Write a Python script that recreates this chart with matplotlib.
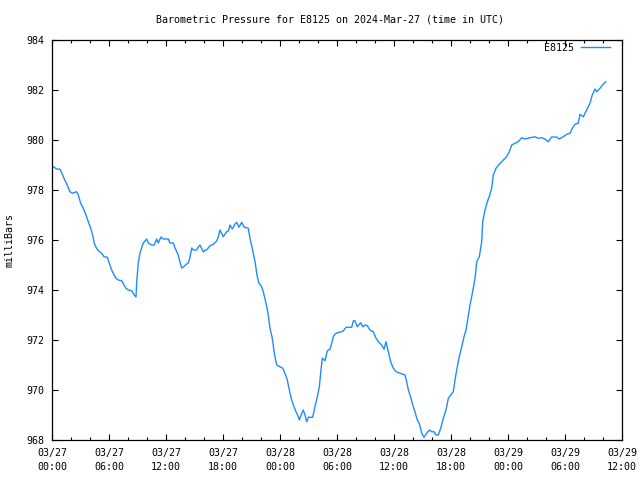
import matplotlib
matplotlib.use("Agg")
import matplotlib.pyplot as plt
from matplotlib.ticker import MultipleLocator

# hours since 2024-03-27 00:00 UTC
hours = [0.14, 0.49, 0.84, 1.02, 1.26, 1.55, 1.89, 2.18, 2.42, 2.60, 2.77, 3.02, 3.29, 3.58, 3.82,
         4.07, 4.28, 4.45, 4.63, 4.87, 5.23, 5.47, 5.82, 6.03, 6.28, 6.53, 6.74, 6.98, 7.34, 7.58,
         7.79, 8.03, 8.39, 8.66, 8.84, 8.92, 9.08, 9.26, 9.44, 9.61, 9.97, 10.14, 10.49, 10.77,
         11.02, 11.19, 11.47, 11.72, 12.24, 12.42, 12.77, 12.95, 13.29, 13.47, 13.65, 13.82, 14.18,
         14.35, 14.53, 14.71, 14.87, 15.23, 15.40, 15.58, 15.93, 16.11, 16.28, 16.63, 16.98, 17.34,
         17.51, 17.68, 18.03, 18.39, 18.56, 18.74, 18.98, 19.26, 19.44, 19.68, 19.97, 20.24, 20.66,
         20.84, 21.08, 21.37, 21.61, 21.79, 22.07, 22.24, 22.49, 22.71, 22.95, 23.19, 23.40, 23.65,
         24.00, 24.28, 24.53, 24.77, 24.98, 25.23, 25.47, 25.68, 25.93, 26.03, 26.18, 26.45, 26.63,
         26.81, 26.98, 27.44, 27.68, 27.93, 28.14, 28.28, 28.45, 28.74, 28.98, 29.26, 29.44, 29.61,
         29.79, 30.03, 30.49, 30.66, 30.95, 31.55, 31.72, 31.89, 32.14, 32.49, 32.71, 32.95, 33.19,
         33.47, 33.82, 34.11, 34.35, 34.71, 34.95, 35.16, 35.40, 35.65, 35.93, 36.21, 36.63, 37.16,
         37.34, 37.51, 37.76, 37.97, 38.21, 38.45, 38.66, 38.92, 39.16, 39.44, 39.72, 39.97, 40.21,
         40.42, 40.66, 40.92, 41.19, 41.47, 41.72, 41.97, 42.24, 42.42, 42.60, 42.87, 43.13, 43.37,
         43.58, 44.00, 44.28, 44.53, 44.71, 44.98, 45.23, 45.34, 45.58, 45.82, 46.03, 46.28, 46.45,
         46.74, 47.08, 47.51, 47.86, 48.14, 48.39, 48.74, 49.08, 49.44, 49.79, 50.32, 50.84, 51.19,
         51.55, 51.89, 52.24, 52.60, 53.13, 53.37, 53.82, 54.18, 54.53, 54.77, 55.05, 55.40, 55.58,
         55.93, 56.28, 56.63, 56.87, 57.16, 57.34, 57.68, 58.03, 58.28]

pressure = [978.93, 978.84, 978.83, 978.69, 978.47, 978.24, 977.93, 977.87, 977.91, 977.93, 977.80,
            977.47, 977.27, 977.00, 976.73, 976.47, 976.20, 975.87, 975.71, 975.57, 975.47, 975.33,
            975.31, 975.07, 974.80, 974.60, 974.47, 974.40, 974.37, 974.20, 974.07, 974.00, 973.97,
            973.80, 973.72, 974.32, 975.08, 975.48, 975.68, 975.88, 976.04, 975.88, 975.80, 975.80,
            976.04, 975.88, 976.12, 976.04, 976.04, 975.88, 975.88, 975.68, 975.40, 975.12, 974.88,
            974.92, 975.04, 975.08, 975.32, 975.68, 975.60, 975.60, 975.72, 975.80, 975.52, 975.60,
            975.60, 975.77, 975.83, 975.96, 976.13, 976.40, 976.13, 976.33, 976.36, 976.60, 976.44,
            976.63, 976.71, 976.51, 976.71, 976.51, 976.47, 976.07, 975.67, 975.13, 974.53, 974.27,
            974.13, 973.93, 973.53, 973.13, 972.47, 972.07, 971.47, 971.00, 970.93, 970.87, 970.67,
            970.40, 970.00, 969.60, 969.33, 969.13, 968.93, 968.80, 968.96, 969.20, 969.00, 968.73,
            968.91, 968.91, 969.33, 969.73, 970.13, 970.67, 971.27, 971.17, 971.57, 971.63, 971.87,
            972.13, 972.24, 972.29, 972.33, 972.36, 972.51, 972.51, 972.77, 972.77, 972.53, 972.69,
            972.53, 972.60, 972.57, 972.40, 972.33, 972.07, 971.93, 971.80, 971.63, 971.93, 971.53,
            971.13, 970.87, 970.73, 970.67, 970.60, 970.33, 970.00, 969.71, 969.40, 969.13, 968.80,
            968.67, 968.27, 968.11, 968.27, 968.40, 968.33, 968.33, 968.20, 968.20, 968.47, 968.87,
            969.20, 969.67, 969.80, 969.93, 970.40, 970.80, 971.33, 971.73, 972.13, 972.40, 973.40,
            973.93, 974.47, 975.13, 975.33, 975.93, 976.73, 977.20, 977.53, 977.73, 978.07, 978.60,
            978.87, 979.03, 979.20, 979.33, 979.53, 979.80, 979.87, 979.93, 980.09, 980.04, 980.09,
            980.13, 980.07, 980.09, 980.04, 979.93, 980.12, 980.12, 980.04, 980.13, 980.23, 980.27,
            980.47, 980.63, 980.67, 981.03, 980.93, 981.20, 981.47, 981.80, 982.04, 981.93, 982.07,
            982.23, 982.33]

tick_hours = [0, 6, 12, 18, 24, 30, 36, 42, 48, 54, 60]
tick_labels = ["03/27\n00:00", "03/27\n06:00", "03/27\n12:00", "03/27\n18:00", "03/28\n00:00",
               "03/28\n06:00", "03/28\n12:00", "03/28\n18:00", "03/29\n00:00", "03/29\n06:00",
               "03/29\n12:00"]
y_ticks = [968, 970, 972, 974, 976, 978, 980, 982, 984]

FONT = "DejaVu Sans Mono"
FS = 7.2

fig = plt.figure(figsize=(6.4, 4.8), dpi=100)
ax = fig.add_axes([52/640, 1 - 440/480, 570/640, 400/480])
ax.plot(hours, pressure, color="#1E8CFF", lw=1.0, label="E8125")
ax.set_xlim(0, 60)
ax.set_ylim(968, 984)
ax.set_xticks(tick_hours)
ax.set_xticklabels(tick_labels, fontfamily=FONT, fontsize=FS, linespacing=1.5)
ax.set_yticks(y_ticks)
ax.set_yticklabels([str(v) for v in y_ticks], fontfamily=FONT, fontsize=FS)
ax.xaxis.set_minor_locator(MultipleLocator(2))
ax.tick_params(which="both", direction="in", top=True, right=True, width=0.8, color="black")
ax.tick_params(which="major", length=4)
ax.tick_params(which="minor", length=2)
ax.tick_params(axis="x", which="major", pad=6)
ax.tick_params(axis="y", which="major", pad=5.5)
for s in ax.spines.values():
    s.set_linewidth(0.9)
    s.set_color("black")

fig.text(330/640, 1 - 20/480, "Barometric Pressure for E8125 on 2024-Mar-27 (time in UTC)",
         ha="center", va="center", fontfamily=FONT, fontsize=FS)
fig.text(10/640, 0.5, "milliBars", rotation=90, ha="center", va="center",
         fontfamily=FONT, fontsize=FS)

leg = ax.legend(loc="upper right", frameon=False, markerfirst=False,
                prop={"family": FONT, "size": FS}, handlelength=2.9,
                borderaxespad=0, borderpad=0, handletextpad=0.7,
                bbox_to_anchor=(1 - 12/570, 1 - 3/400))

fig.savefig("out.png", dpi=100)
